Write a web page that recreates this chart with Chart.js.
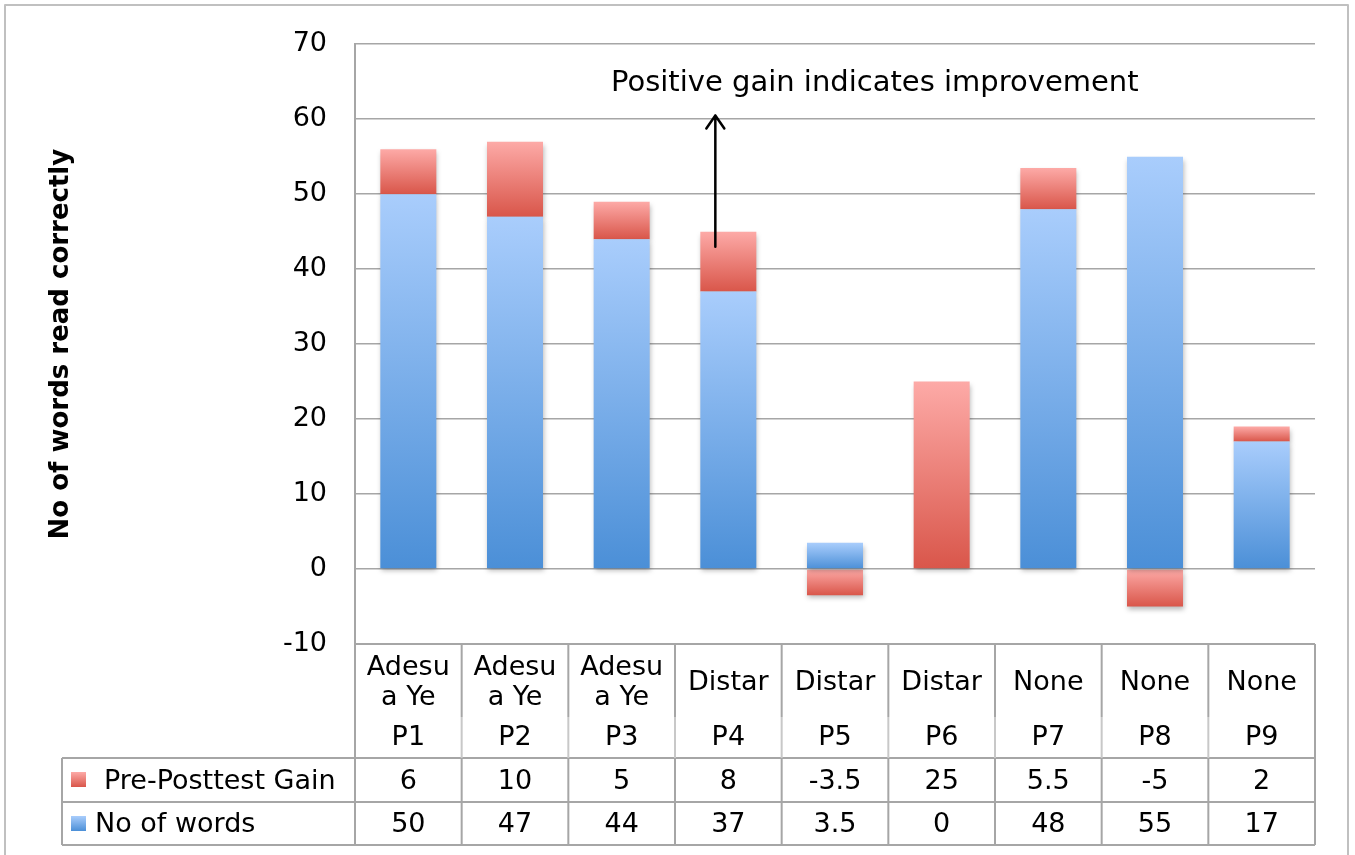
<!DOCTYPE html>
<html>
<head>
<meta charset="utf-8">
<script src="https://cdn.jsdelivr.net/npm/chart.js@4.4.1/dist/chart.umd.min.js"></script>
<style>
html, body { margin: 0; padding: 0; background: #fff; }
canvas { display: block; }
</style>
</head>
<body>
<canvas id="canvasData" width="1355" height="855"></canvas>
<script>
// chart values
var categories = [["Adesu", "a Ye"], ["Adesu", "a Ye"], ["Adesu", "a Ye"], ["Distar"], ["Distar"], ["Distar"], ["None"], ["None"], ["None"]];
var participants = ["P1", "P2", "P3", "P4", "P5", "P6", "P7", "P8", "P9"];
var gainValues = [6, 10, 5, 8, -3.5, 25, 5.5, -5, 2];
var wordValues = [50, 47, 44, 37, 3.5, 0, 48, 55, 17];
var seriesNames = ["Pre-Posttest Gain", "No of words"];
var yMin = -10, yMax = 70, yStep = 10;
var axisTitle = "No of words read correctly";
var noteText = "Positive gain indicates improvement";

var fontFamily = "'DejaVu Sans', Verdana, sans-serif";
var lineGray = "#a6a6a6";
var blueLight = "#a9cdfc", blueDark = "#4b8fd7";
var redLight = "#fdaaa7", redDark = "#d9564a";

// value range covered by one segment of the stack
var segmentRange = function (datasetIndex, i) {
    var w = wordValues[i], g = gainValues[i];
    if (datasetIndex === 0)
        return [Math.min(0, w), Math.max(0, w)];
    if (g >= 0) {
        var b = Math.max(0, w);
        return [b, b + g];
    }
    var t = Math.min(0, w);
    return [t + g, t];
};

var barFill = function (light, dark) {
    return function (context) {
        var chart = context.chart;
        if (!chart.chartArea || context.dataIndex === undefined)
            return dark;
        var r = segmentRange(context.datasetIndex, context.dataIndex);
        var yScale = chart.scales.y;
        var top = yScale.getPixelForValue(r[1]);
        var bottom = yScale.getPixelForValue(r[0]);
        if (bottom - top < 1) bottom = top + 1;
        var grad = chart.ctx.createLinearGradient(0, top, 0, bottom);
        grad.addColorStop(0, light);
        grad.addColorStop(1, dark);
        return grad;
    };
};

var keyFill = function (ctx, x, y, size, light, dark) {
    var grad = ctx.createLinearGradient(0, y, 0, y + size);
    grad.addColorStop(0, light);
    grad.addColorStop(1, dark);
    ctx.fillStyle = grad;
    ctx.fillRect(x, y, size, size);
};

var shadowPlugin = {
    id: 'barShadow',
    beforeDatasetsDraw: function (chart) {
        var ctx = chart.ctx;
        ctx.save();
        ctx.shadowColor = "rgba(0,0,0,0.28)";
        ctx.shadowBlur = 5;
        ctx.shadowOffsetX = 1;
        ctx.shadowOffsetY = 3;
    },
    afterDatasetsDraw: function (chart) {
        chart.ctx.restore();
    }
};

var tablePlugin = {
    id: 'dataTable',
    afterDraw: function (chart) {
        var ctx = chart.ctx;
        var area = chart.chartArea;
        var xs = chart.scales.x;
        var ys = chart.scales.y;
        var colW = area.width / participants.length;
        var top = area.bottom;
        var splitY = top + 73;
        var row1 = top + 114;
        var row2 = row1 + 44;
        var row3 = row2 + 43;
        var legendLeft = 62;

        ctx.save();
        ctx.strokeStyle = lineGray;
        ctx.lineWidth = 2;
        ctx.beginPath();
        // horizontal rules
        ctx.moveTo(area.left, top); ctx.lineTo(area.right, top);
        ctx.moveTo(legendLeft, row1); ctx.lineTo(area.right, row1);
        ctx.moveTo(legendLeft, row2); ctx.lineTo(area.right, row2);
        ctx.moveTo(legendLeft, row3); ctx.lineTo(area.right, row3);
        ctx.moveTo(legendLeft, row1); ctx.lineTo(legendLeft, row3);
        ctx.moveTo(area.left, top); ctx.lineTo(area.left, row3);
        ctx.moveTo(area.right, top); ctx.lineTo(area.right, row3);
        for (var c = 1; c < participants.length; c++) {
            var lx = area.left + c * colW;
            ctx.moveTo(lx, top); ctx.lineTo(lx, splitY);
            ctx.moveTo(lx, row1); ctx.lineTo(lx, row3);
        }
        ctx.stroke();
        ctx.strokeStyle = "#c8c8c8";
        ctx.beginPath();
        for (var c = 1; c < participants.length; c++) {
            var lx = area.left + c * colW;
            ctx.moveTo(lx, splitY); ctx.lineTo(lx, row1);
        }
        ctx.stroke();

        ctx.fillStyle = "#000";
        ctx.font = "27px " + fontFamily;
        ctx.textAlign = "center";
        ctx.textBaseline = "middle";
        for (var i = 0; i < participants.length; i++) {
            var cx = xs.getPixelForValue(i);
            var lines = categories[i];
            if (lines.length === 2) {
                ctx.fillText(lines[0], cx, top + 24);
                ctx.fillText(lines[1], cx, top + 54);
            } else {
                ctx.fillText(lines[0], cx, top + 39);
            }
            ctx.fillText(participants[i], cx, top + 94);
            ctx.fillText(String(gainValues[i]), cx, row1 + 24);
            ctx.fillText(String(wordValues[i]), cx, row2 + 23);
        }

        // legend cells
        keyFill(ctx, 71, row1 + 14, 15, redLight, redDark);
        keyFill(ctx, 71, row2 + 14, 15, blueLight, blueDark);
        ctx.fillStyle = "#000";
        ctx.textAlign = "left";
        ctx.fillText(seriesNames[0], 104, row1 + 24);
        ctx.fillText(seriesNames[1], 95, row2 + 23);

        // note and arrow
        ctx.font = "29px " + fontFamily;
        ctx.textAlign = "left";
        ctx.textBaseline = "alphabetic";
        ctx.fillText(noteText, area.left + 256, area.top + 47);
        var ax = xs.getPixelForValue(3) - 13;
        var ayBottom = ys.getPixelForValue(43);
        var ayTop = ys.getPixelForValue(60.5);
        ctx.strokeStyle = "#000";
        ctx.lineWidth = 2.5;
        ctx.lineCap = "round";
        ctx.lineJoin = "round";
        ctx.beginPath();
        ctx.moveTo(ax, ayBottom); ctx.lineTo(ax, ayTop);
        ctx.moveTo(ax - 9, ayTop + 13); ctx.lineTo(ax, ayTop); ctx.lineTo(ax + 9, ayTop + 13);
        ctx.stroke();

        // outer frame
        ctx.strokeStyle = "#c0c0c0";
        ctx.lineWidth = 2;
        ctx.strokeRect(5, 5, 1343, 900);
        ctx.restore();
    }
};

var barChartCanvas = document.getElementById("canvasData").getContext("2d");
var barChart = new Chart(barChartCanvas, {
    type: 'bar',
    data: {
        labels: participants,
        datasets: [
            {
                label: seriesNames[1],
                data: wordValues,
                backgroundColor: barFill(blueLight, blueDark),
                borderWidth: 0
            },
            {
                label: seriesNames[0],
                data: gainValues,
                backgroundColor: barFill(redLight, redDark),
                borderWidth: 0
            }
        ]
    },
    options: {
        responsive: false,
        animation: false,
        categoryPercentage: 1,
        barPercentage: 0.525,
        layout: { padding: { left: 0, top: 40, right: 40, bottom: 211 } },
        plugins: {
            legend: { display: false },
            tooltip: { enabled: false }
        },
        scales: {
            x: {
                type: 'category',
                display: false,
                stacked: true
            },
            y: {
                stacked: true,
                min: yMin,
                max: yMax,
                ticks: {
                    stepSize: yStep,
                    color: "#000",
                    padding: 28,
                    font: { family: fontFamily, size: 27 }
                },
                grid: { color: lineGray, lineWidth: 1.5, drawTicks: false },
                border: { display: true, color: lineGray, width: 2 },
                title: {
                    display: true,
                    text: axisTitle,
                    color: "#000",
                    font: { family: fontFamily, size: 26, weight: 'bold' },
                    padding: { top: 46, bottom: 0 }
                },
                afterFit: function (scale) {
                    scale.width = 355;
                }
            }
        }
    },
    plugins: [shadowPlugin, tablePlugin]
});
</script>
</body>
</html>
